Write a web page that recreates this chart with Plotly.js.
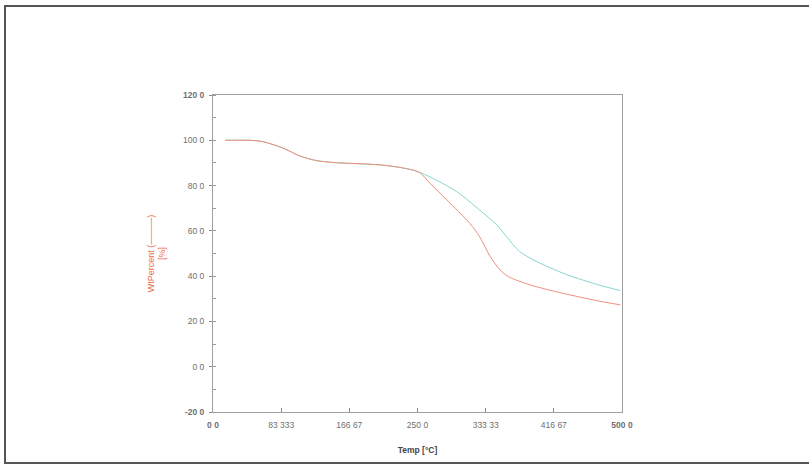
<!DOCTYPE html>
<html>
<head>
<meta charset="utf-8">
<script src="https://cdn.plot.ly/plotly-3.0.1.min.js"></script>
<style>
html,body{margin:0;padding:0;background:#fff;}
#chart{width:809px;height:465px;}
</style>
</head>
<body>
<div id="chart"></div>
<script>
// Sample A (red) – temperature [°C] and weight percent
const tempRed = [15, 30, 45, 61, 86, 106, 127, 151, 188, 208, 227, 245, 253, 265, 286, 314, 326, 339, 351, 361, 388, 428, 469, 498];
const wtRed   = [100, 100, 100, 99.4, 96.5, 93.1, 91.0, 90.1, 89.5, 89.0, 88.1, 86.8, 85.7, 81.1, 73.6, 63.3, 57.4, 48.6, 42.7, 39.8, 36.1, 32.4, 29.2, 27.3];

// Sample B (teal)
const tempTeal = [15, 30, 45, 61, 86, 106, 127, 151, 188, 208, 227, 245, 253, 265, 298, 326, 347, 359, 375, 396, 428, 465, 498];
const wtTeal   = [100, 100, 100, 99.4, 96.5, 93.1, 91.0, 90.1, 89.5, 89.0, 88.1, 86.8, 85.7, 83.9, 77.3, 69.2, 62.6, 57.4, 50.8, 46.4, 41.3, 36.8, 33.6];

// Tick labels as printed
const xTickVals = [0, 83.333, 166.67, 250, 333.33, 416.67, 500];
const xTickText = ['<b>0 0</b>', '83 333', '166 67', '250 0', '333 33', '416 67', '<b>500 0</b>'];
const yTickVals = [-20, 0, 20, 40, 60, 80, 100, 120];
const yTickText = ['<b>-20 0</b>', '0 0', '20 0', '40 0', '60 0', '80 0', '100 0', '<b>120 0</b>'];

const traces = [
  {x: tempTeal, y: wtTeal, type: 'scatter', mode: 'lines',
   line: {color: '#86d6ce', width: 1, shape: 'spline', smoothing: 0.8}, showlegend: false, hoverinfo: 'skip'},
  {x: tempRed, y: wtRed, type: 'scatter', mode: 'lines',
   line: {color: '#ef8e7e', width: 1, shape: 'spline', smoothing: 0.8}, showlegend: false, hoverinfo: 'skip'}
];

const axisCommon = {
  showgrid: false, zeroline: false, showline: true, linecolor: '#a0a0a0', linewidth: 1,
  mirror: true, tickcolor: '#8a8a8a', tickfont: {family: 'Liberation Sans, Arial, sans-serif', size: 8.5, color: '#6f6f6f'}
};

const layout = {
  width: 809, height: 465,
  margin: {l: 213, r: 187, t: 95, b: 53},
  paper_bgcolor: '#ffffff', plot_bgcolor: '#ffffff',
  xaxis: Object.assign({}, axisCommon, {
    range: [0, 500], tickmode: 'array', tickvals: xTickVals, ticktext: xTickText,
    ticks: 'inside', ticklen: 4, ticklabelstandoff: 5,
    title: {text: '<b>Temp [°C]</b>', font: {family: 'Liberation Sans, Arial, sans-serif', size: 8.5, color: '#444'}, standoff: 17}
  }),
  yaxis: Object.assign({}, axisCommon, {
    range: [-20, 120], tickmode: 'array', tickvals: yTickVals, ticktext: yTickText,
    ticks: 'outside', ticklen: 3, ticklabelstandoff: 3,
    minor: {dtick: 10, tick0: 0, ticks: 'inside', ticklen: 3, tickcolor: '#9a9a9a'},
    title: {text: 'WtPercent (———)<br>[%]', font: {family: 'Liberation Sans, Arial, sans-serif', size: 9, color: '#ec6a4a'}, standoff: 15}
  }),
  shapes: [
    {type: 'rect', xref: 'paper', yref: 'paper',
     x0: (5 - 213) / 409, x1: (815 - 213) / 409,
     y0: (412 - 463) / 317, y1: (412 - 6) / 317,
     line: {color: '#555555', width: 2}, fillcolor: 'rgba(0,0,0,0)', layer: 'below'}
  ]
};

Plotly.newPlot('chart', traces, layout, {displayModeBar: false, staticPlot: true});
</script>
</body>
</html>
